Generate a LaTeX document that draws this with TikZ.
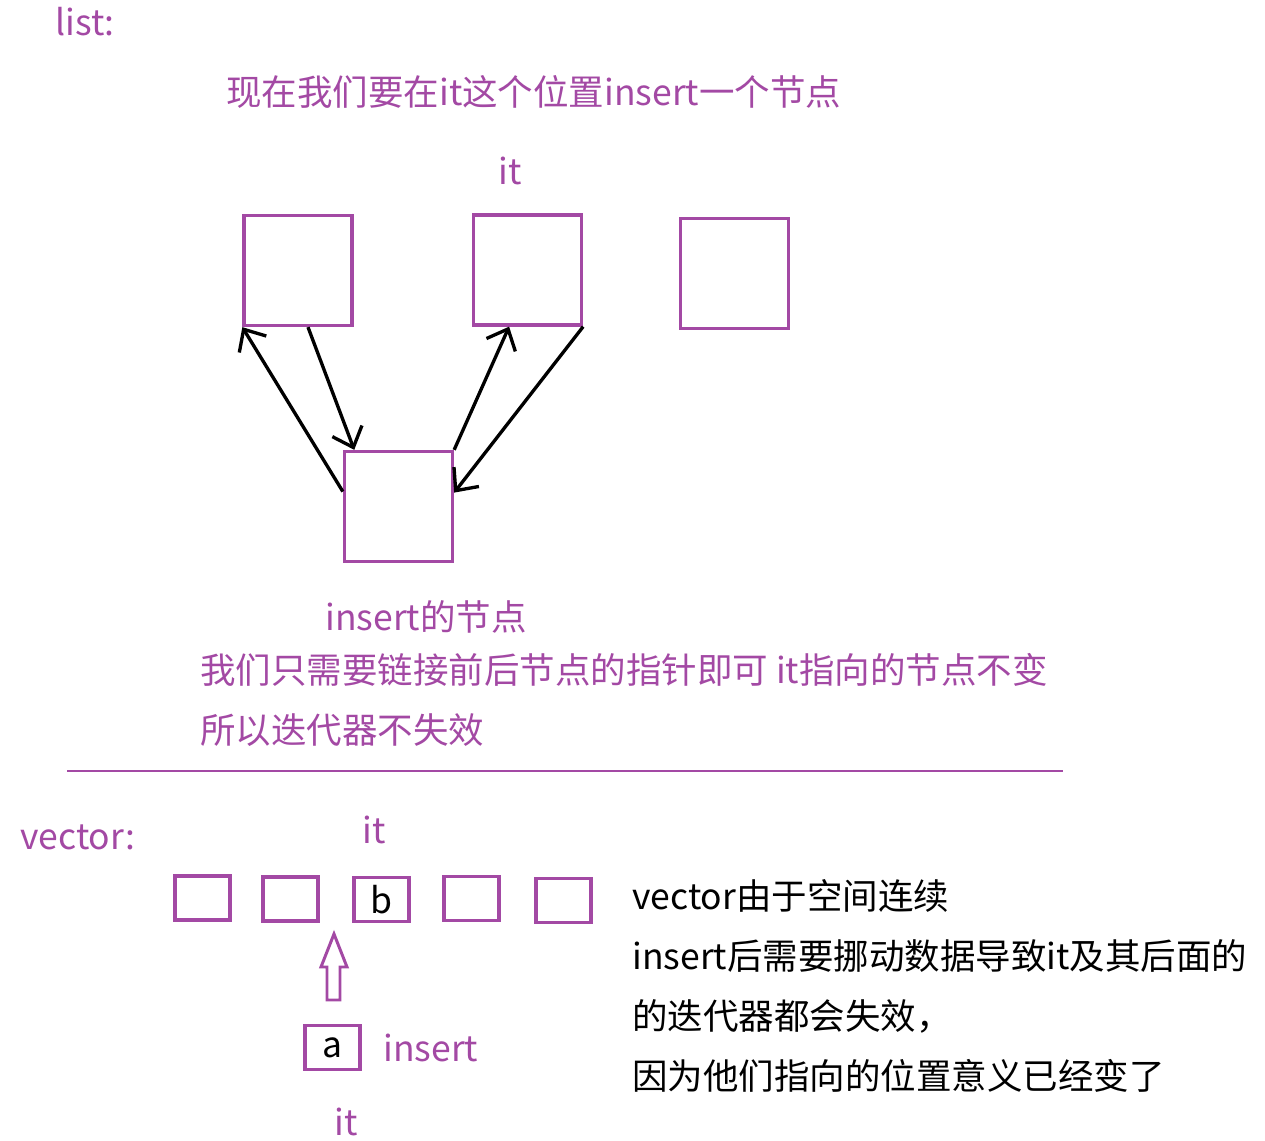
\documentclass[tikz,border=0pt]{standalone}
\usepackage{fontspec}
\setmainfont{Noto Sans CJK SC}
\usepackage{xcolor}
\usetikzlibrary{arrows.meta}
\definecolor{paintpurple}{HTML}{A349A4}

\tikzset{
  lbox/.style={draw=paintpurple, line width=1.9pt, minimum width=2.16cm, minimum height=2.2cm, inner sep=0pt},
  vbox/.style={draw=paintpurple, line width=1.9pt, minimum width=1.1cm, minimum height=0.88cm, inner sep=0pt,
    font=\fontsize{20.2}{24}\selectfont},
  ptxt/.style={text=paintpurple, inner sep=0pt, font=\fontsize{20.2}{24}\selectfont},
  btxt/.style={text=black, inner sep=0pt, anchor=west, font=\fontsize{20.2}{24}\selectfont},
  ptr/.style={draw=black, line width=1.9pt, -{Straight Barb[length=10pt,width=18pt,line width=1.9pt]}},
}

\begin{document}
\begin{tikzpicture}[x=0.02cm, y=-0.02cm]
\useasboundingbox (0,0) rectangle (1265,1141);

% ========= 上：list =========
\node[ptxt, anchor=west] (tlist) at (55,22) {list:};
\node[ptxt, anchor=west] (ttitle) at (226,92) {现在我们要在it这个位置insert一个节点};
\node[ptxt] (tit1) at (510,171) {it};

\node[lbox] (na) at (298,270.5) {};
\node[lbox] (nb) at (527.5,270) {};
\node[lbox] (nc) at (734.5,273.5) {};
\node[lbox] (nd) at (398.5,506.5) {};

\draw[ptr] (nd.165) -- (na.south west);
\draw[ptr] (na.280) -- (nd.128);
\draw[ptr] (nd.north east) -- (nb.252);
\draw[ptr] (nb.south east) -- (nd.14);

\node[ptxt, anchor=west] (tnew) at (325,617) {insert的节点};
\node[ptxt, anchor=west] (tnote1) at (200,670) {我们只需要链接前后节点的指针即可 it指向的节点不变};
\node[ptxt, anchor=west] (tnote2) at (200,730) {所以迭代器不失效};

% 分隔线
\coordinate (sepl) at (67,771);
\coordinate (sepr) at (1063,771);
\draw[paintpurple, line width=1.7pt] (sepl) -- (sepr);

% ========= 下：vector =========
\node[ptxt, anchor=west] (tvec) at (20,837) {vector:};
\node[ptxt] (tit2) at (374,830) {it};

\node[vbox] (v1) at (202.5,898) {};
\node[vbox] (v2) at (290.5,899) {};
\node[vbox] (v3) at (381.5,899.5) {b};
\node[vbox] (v4) at (471.5,898.5) {};
\node[vbox] (v5) at (563.5,900.5) {};

% 空心箭头
\draw[paintpurple, line width=1.7pt, line join=miter]
  (334,934) -- (347,967) -- (340,967) -- (340,1000) -- (327,1000)
  -- (327,967) -- (321,967) -- cycle;

\node[vbox] (va) at (332.5,1047.5) {a};
\node[ptxt, anchor=west] (tins) at (383,1048) {insert};
\node[ptxt] (tit3) at (346,1122) {it};

\node[btxt] (r1) at (632,896) {vector由于空间连续};
\node[btxt] (r2) at (632,956) {insert后需要挪动数据导致it及其后面的};
\node[btxt] (r3) at (632,1016) {的迭代器都会失效，};
\node[btxt] (r4) at (632,1076) {因为他们指向的位置意义已经变了};
\end{tikzpicture}
\end{document}
